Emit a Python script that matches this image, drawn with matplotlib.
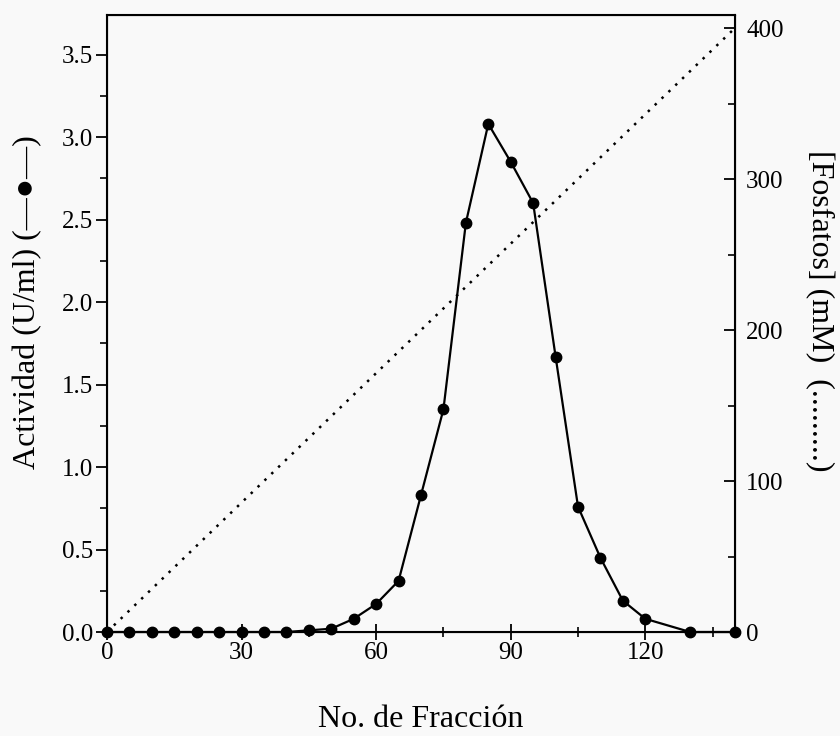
import matplotlib.pyplot as plt
from matplotlib.ticker import MultipleLocator

plt.rcParams['font.family'] = ['Liberation Serif', 'DejaVu Serif']

# actividad por fraccion
fracciones = [0, 5, 10, 15, 20, 25, 30, 35, 40, 45, 50, 55, 60, 65, 70, 75,
              80, 85, 90, 95, 100, 105, 110, 115, 120, 130, 140]
actividad = [0.0, 0.0, 0.0, 0.0, 0.0, 0.0, 0.0, 0.0, 0.0, 0.01, 0.02, 0.08,
             0.17, 0.31, 0.83, 1.35, 2.48, 3.08, 2.85, 2.60, 1.67, 0.76,
             0.45, 0.19, 0.08, 0.0, 0.0]

# gradiente de fosfatos
grad_x = [0, 140]
grad_fosfatos = [0, 400]

x_ticks = [0, 30, 60, 90, 120]

fig = plt.figure(figsize=(8.4, 7.36), dpi=100, facecolor='#f9f9f9')
ax1 = fig.add_axes([0.1274, 0.1413, 0.7476, 0.8383])
ax1.set_facecolor('#f9f9f9')

ax1.plot(fracciones, actividad, '-', color='black', lw=1.6, marker='o',
         markersize=7.5, clip_on=False, zorder=4)
ax1.set_xlim(0, 140)
ax1.set_ylim(0, 3.74)
ax1.set_xticks(x_ticks)
ax1.xaxis.set_minor_locator(MultipleLocator(15))
ax1.yaxis.set_major_locator(MultipleLocator(0.5))
ax1.yaxis.set_minor_locator(MultipleLocator(0.25))
ax1.yaxis.set_major_formatter(plt.FormatStrFormatter('%.1f'))
ax1.tick_params(axis='x', which='major', direction='inout', length=12, width=1.3,
                labelsize=18, pad=1)
ax1.tick_params(axis='x', which='minor', direction='inout', length=7, width=1.2)
ax1.tick_params(axis='y', which='major', direction='out', length=8, width=1.3,
                labelsize=18, pad=2)
ax1.tick_params(axis='y', which='minor', direction='out', length=5, width=1.2)
for s in ax1.spines.values():
    s.set_linewidth(1.5)

ax1.set_xlabel('No. de Fracción', fontsize=23, labelpad=30)
ax1.set_ylabel('Actividad (U/ml) (—●—)', fontsize=23, labelpad=14)
ax1.yaxis.label.set_y(0.535)

ax2 = ax1.twinx()
ax2.plot(grad_x, grad_fosfatos, color='black', lw=1.8, linestyle=(0, (1, 2.8)))
ax2.set_ylim(0, 408.6)
ax2.yaxis.set_major_locator(MultipleLocator(100))
ax2.yaxis.set_minor_locator(MultipleLocator(50))
ax2.tick_params(axis='y', which='major', direction='in', length=8, width=1.3,
                labelsize=18, pad=8)
ax2.tick_params(axis='y', which='minor', direction='in', length=5, width=1.2)
ax2.set_ylabel('[Fosfatos] (mM)  (.........)', fontsize=23, rotation=270,
               labelpad=36)
ax2.yaxis.label.set_y(0.52)

fig.savefig('out.png', dpi=100, facecolor=fig.get_facecolor())
